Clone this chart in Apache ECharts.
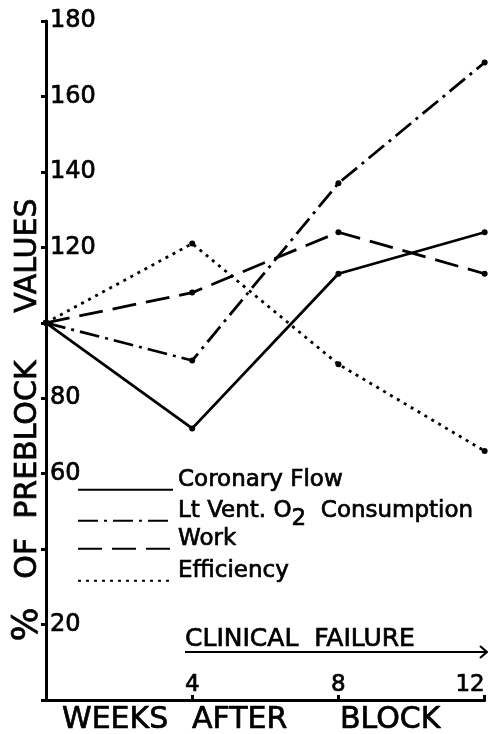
<!DOCTYPE html>
<html>
<head>
<meta charset="utf-8">
<script src="https://cdn.jsdelivr.net/npm/echarts@6/dist/echarts.min.js"></script>
<style>
html,body{margin:0;padding:0;background:#fff;}
#c{width:488px;height:734px;}
</style>
</head>
<body>
<div id="c"></div>
<script>
// Data
var weeks = [0, 4, 8, 12];
var coronaryFlow = [100, 72, 113, 124];
var ltVentO2 = [100, 90, 137, 169];
var work = [100, 108, 124, 113];
var efficiency = [100, 121, 89, 66];
var seriesNames = ['Coronary Flow', 'Lt Vent. O2 Consumption', 'Work', 'Efficiency'];
var yTickHidden = [0, 40, 100];

var FONT = '"DejaVu Sans", sans-serif';
var BW = 0.7; // slight text border to mimic heavier lettering
function pairs(xs, ys) { return xs.map(function (x, i) { return [x, ys[i]]; }); }

var chart = echarts.init(document.getElementById('c'), null, {renderer: 'canvas'});

function mkSeries(name, vals, dash) {
  return {
    name: name, type: 'line', data: pairs(weeks, vals),
    symbol: 'circle', symbolSize: 6,
    itemStyle: {color: '#000'},
    lineStyle: {color: '#000', width: 2.8, type: dash},
    clip: true, animation: false
  };
}

function mkLegend(name, top) {
  return {
    data: [name], left: 77, top: top, orient: 'vertical', padding: 0,
    itemWidth: 95, itemHeight: 10, itemGap: 0,
    itemStyle: {opacity: 0},
    textStyle: {
      fontSize: 23, fontFamily: FONT, color: '#000', padding: [0, 0, 20, 0],
      textBorderColor: '#000', textBorderWidth: BW,
      rich: {s: {fontSize: 23, fontFamily: FONT, color: '#000', padding: [16, 0, 0, 0], textBorderColor: '#000', textBorderWidth: BW}}
    },
    formatter: function (n) { return n === seriesNames[1] ? 'Lt Vent. O{s|2}  Consumption' : n; }
  };
}

var option = {
  backgroundColor: '#fff',
  animation: false,
  grid: {left: 46, right: 0, top: 21, bottom: 34, containLabel: false},
  xAxis: {
    type: 'value', min: 0, max: 12, interval: 4,
    axisLine: {show: true, lineStyle: {color: '#000', width: 3}},
    axisTick: {show: true, inside: true, length: 5, lineStyle: {color: '#000', width: 3}},
    axisLabel: {
      inside: true, margin: 3, color: '#000', fontSize: 23, fontFamily: FONT,
      textBorderColor: '#000', textBorderWidth: BW,
      alignMaxLabel: 'right',
      formatter: function (v) { return v === 0 ? '' : String(v); }
    },
    splitLine: {show: false}
  },
  yAxis: {
    type: 'value', min: 0, max: 180, interval: 20,
    axisLine: {show: true, lineStyle: {color: '#000', width: 3}},
    axisTick: {show: true, inside: false, length: 5, lineStyle: {color: '#000', width: 3}},
    axisLabel: {
      inside: true, margin: 4, color: '#000', fontSize: 24, fontFamily: FONT,
      textBorderColor: '#000', textBorderWidth: BW,
      formatter: function (v) { return yTickHidden.indexOf(v) >= 0 ? '' : String(v); }
    },
    splitLine: {show: false}
  },
  legend: [
    mkLegend(seriesNames[0], 468),
    mkLegend(seriesNames[1], 499),
    mkLegend(seriesNames[2], 527),
    mkLegend(seriesNames[3], 559)
  ],
  series: [
    mkSeries(seriesNames[0], coronaryFlow, 'solid'),
    mkSeries(seriesNames[1], ltVentO2, [20, 6, 3, 6]),
    mkSeries(seriesNames[2], work, [24, 10]),
    mkSeries(seriesNames[3], efficiency, [3, 5])
  ],
  graphic: [
    {type: 'text', x: 28, y: 420, rotation: Math.PI / 2,
     style: {text: '{p|%}   OF  PREBLOCK     VALUES', fontSize: 30, fontFamily: FONT, fill: '#000', align: 'center', verticalAlign: 'middle',
       stroke: '#000', lineWidth: BW,
       rich: {p: {fontSize: 36, fontFamily: FONT, fill: '#000', stroke: '#000', lineWidth: BW}}}},
    {type: 'text', x: 62, y: 720, style: {text: 'WEEKS', fontSize: 30, fontFamily: FONT, fill: '#000', stroke: '#000', lineWidth: BW, verticalAlign: 'middle'}},
    {type: 'text', x: 192, y: 720, style: {text: 'AFTER', fontSize: 30, fontFamily: FONT, fill: '#000', stroke: '#000', lineWidth: BW, verticalAlign: 'middle'}},
    {type: 'text', x: 340, y: 720, style: {text: 'BLOCK', fontSize: 30, fontFamily: FONT, fill: '#000', stroke: '#000', lineWidth: BW, verticalAlign: 'middle'}},
    {type: 'text', x: 185, y: 639, style: {text: 'CLINICAL  FAILURE', fontSize: 25, fontFamily: FONT, fill: '#000', stroke: '#000', lineWidth: BW, verticalAlign: 'middle'}},
    {type: 'line', shape: {x1: 185, y1: 652, x2: 487, y2: 652}, style: {stroke: '#000', lineWidth: 2.2}},
    {type: 'polyline', shape: {points: [[480, 646], [487, 652], [480, 658]]}, style: {stroke: '#000', lineWidth: 2.2, fill: null}}
  ]
};
chart.setOption(option);
</script>
</body>
</html>
